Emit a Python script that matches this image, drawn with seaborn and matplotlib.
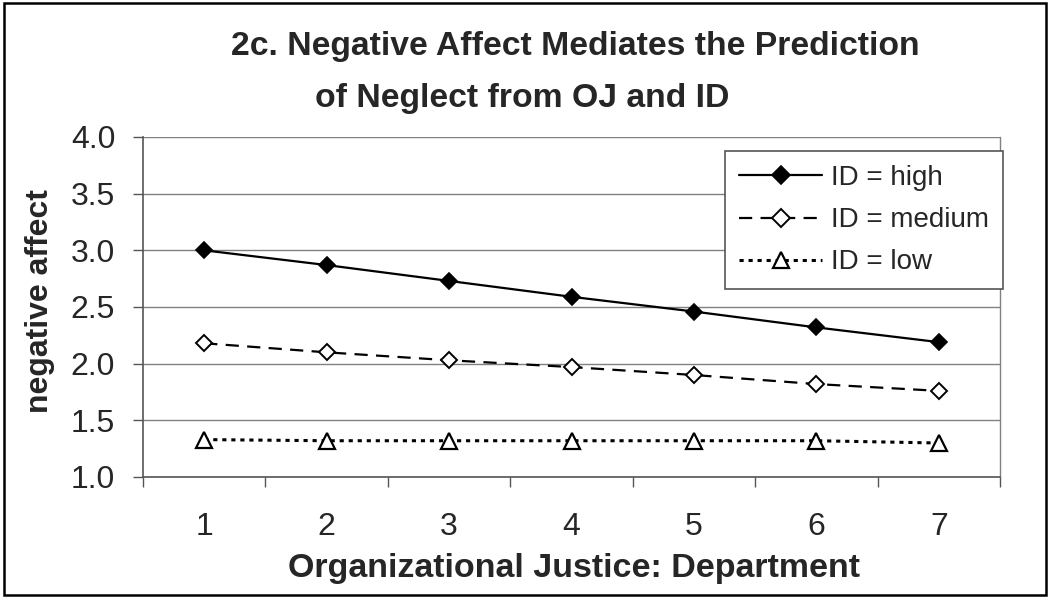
import numpy as np
import pandas as pd
import matplotlib.pyplot as plt
import seaborn as sns
from matplotlib.patches import Rectangle
from matplotlib.ticker import FixedLocator, NullFormatter

# valores
oj_levels = [1, 2, 3, 4, 5, 6, 7]
id_high = [3.00, 2.87, 2.73, 2.59, 2.46, 2.32, 2.19]
id_medium = [2.18, 2.10, 2.03, 1.97, 1.90, 1.82, 1.76]
id_low = [1.33, 1.32, 1.32, 1.32, 1.32, 1.32, 1.30]
series_labels = ['ID = high', 'ID = medium', 'ID = low']
y_ticks = [1.0, 1.5, 2.0, 2.5, 3.0, 3.5, 4.0]

df = pd.DataFrame({'oj': oj_levels, 'high': id_high,
                   'medium': id_medium, 'low': id_low})

sns.set_theme(style='white')
plt.rcParams['font.family'] = ['Liberation Sans', 'DejaVu Sans']
plt.rcParams['lines.scale_dashes'] = False

fig = plt.figure(figsize=(10.5, 6.03), dpi=100)
ax = fig.add_axes([143 / 1050, 1 - 477 / 603, 857 / 1050, 340 / 603])

sns.lineplot(data=df, x='oj', y='high', ax=ax, color='black', lw=1.6,
             marker='D', ms=8.5, mfc='black', mec='black', mew=1.2,
             label=series_labels[0], errorbar=None)
sns.lineplot(data=df, x='oj', y='medium', ax=ax, color='black', lw=1.6,
             linestyle=(0, (9.5, 6)), marker='D', ms=8.5, mfc='white',
             mec='black', mew=1.4, label=series_labels[1], errorbar=None)
sns.lineplot(data=df, x='oj', y='low', ax=ax, color='black', lw=2.2,
             linestyle=(0, (3, 3.5)), marker='^', ms=11, mfc='white',
             mec='black', mew=1.6, label=series_labels[2], errorbar=None)

# eixos
ax.set_xlim(0.5, 7.5)
ax.set_ylim(1.0, 4.0)
ax.set_yticks(y_ticks)
ax.set_yticklabels([f'{v:.1f}' for v in y_ticks])
ax.xaxis.set_major_locator(FixedLocator(np.arange(0.5, 8.0, 1.0)))
ax.xaxis.set_major_formatter(NullFormatter())
ax.xaxis.set_minor_locator(FixedLocator(oj_levels))
ax.set_xticklabels([str(v) for v in oj_levels], minor=True)
ax.tick_params(axis='x', which='major', direction='out', length=7,
               width=1, color='#555555', bottom=True)
ax.tick_params(axis='x', which='minor', length=0, pad=25, labelsize=23,
               bottom=True)
ax.tick_params(axis='y', direction='out', length=7, width=1,
               color='#555555', pad=13, labelsize=23, left=True)
ax.set_xlabel('')
ax.set_ylabel('')

ax.grid(axis='y', color='#808080', lw=1)
ax.set_axisbelow(True)
for side in ['left', 'bottom']:
    ax.spines[side].set_color('#555555')
    ax.spines[side].set_linewidth(1.2)
ax.spines['right'].set_color('#808080')
ax.spines['right'].set_linewidth(1)
ax.spines['top'].set_visible(False)

leg = ax.legend(loc='upper right', bbox_to_anchor=(1.003, 0.958),
                fontsize=20, frameon=True, fancybox=False,
                edgecolor='#555555', framealpha=1, handlelength=3.0,
                handletextpad=0.3, labelspacing=0.58, borderpad=0.5,
                borderaxespad=0, markerscale=1.1)
leg.get_frame().set_linewidth(1.2)

# títulos e rótulos
fig.text(575 / 1050, 1 - 47 / 603,
         '2c. Negative Affect Mediates the Prediction',
         ha='center', va='center', fontsize=24.3, fontweight='bold')
fig.text(522 / 1050, 1 - 98 / 603, 'of Neglect from OJ and ID',
         ha='center', va='center', fontsize=24.3, fontweight='bold')
fig.text(574 / 1050, 1 - 568 / 603, 'Organizational Justice: Department',
         ha='center', va='center', fontsize=24.5, fontweight='bold')
fig.text(40 / 1050, 1 - 301 / 603, 'negative affect', rotation=90,
         ha='center', va='center', fontsize=23, fontweight='bold')

# moldura externa
fig.patches.append(Rectangle((4 / 1050, 1 - 595 / 603), 1042 / 1050,
                             592 / 603, transform=fig.transFigure,
                             fill=False, edgecolor='black', lw=1.8))

fig.savefig('out.png', dpi=100)
